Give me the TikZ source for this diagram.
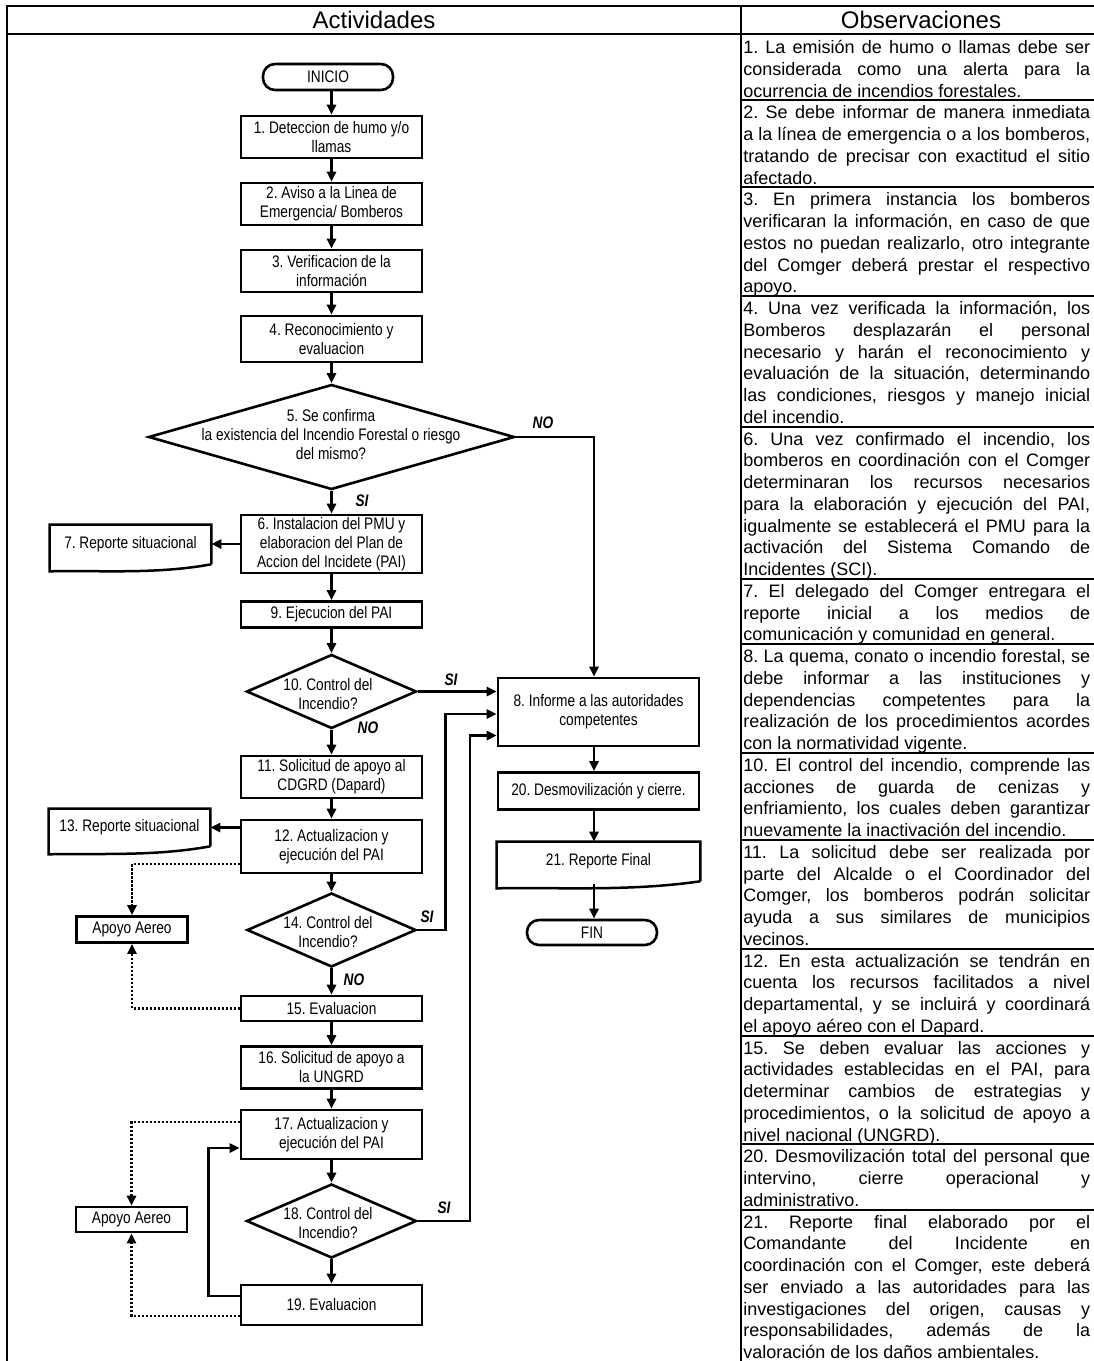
\documentclass[tikz,border=0pt]{standalone}
\usepackage{fontspec}
\setmainfont{Liberation Sans}
\newfontfamily\narrowfont[FakeStretch=0.82]{Liberation Sans}
\usetikzlibrary{shapes.geometric, arrows.meta}
\tolerance=10000
\hbadness=10000
\frenchspacing

\tikzset{
  grid/.style={line width=2pt},
  proc/.style={draw, line width=2.6pt, inner sep=0pt, align=center,
    minimum width=181, font=\narrowfont\fontsize{16.7}{19}\selectfont},
  term/.style={proc, rounded corners=12pt, minimum width=130},
  doc/.style={proc, draw=none},
  dia/.style={draw, diamond, line width=2.6pt, inner sep=0pt},
  txt/.style={inner sep=0pt, align=center, font=\narrowfont\fontsize{16.7}{19}\selectfont},
  lbl/.style={inner sep=0pt, font=\narrowfont\bfseries\itshape\fontsize{16.7}{19}\selectfont},
  aux/.style={->, line width=2.5pt, dash pattern=on 2.2pt off 1.8pt},
  head/.style={inner sep=0pt, font=\fontsize{24}{28}\selectfont},
  obs/.style={anchor=base west, inner sep=0pt, font=\fontsize{18}{21.75}\selectfont\frenchspacing}
}

\begin{document}
\begin{tikzpicture}[x=1pt, y=-1pt, >={Triangle[length=10pt,width=9pt]}, line width=2.5pt]
    \useasboundingbox (0,0) rectangle (1094,1361);

    % Draw the table
    \draw[grid] (6,6) -- (1094,6);
    \draw[grid] (6,34) -- (1094,34);
    \draw[grid] (7,6) -- (7,1361);
    \draw[grid] (741,6) -- (741,1361);
    \foreach \l in {3,7,12,18,25,28,33,37,42,46,51,54}
        \draw[grid] (741,{35+\l*21.75}) -- (1094,{35+\l*21.75});
    \node[head] (hact) at (374,20) {Actividades};
    \node[head] (hobs) at (921,20) {Observaciones};

    % Main column of the chart
    \node[term, minimum height=26] (ini) at (328,77) {INICIO};
    \node[proc, minimum height=42] (b1) at (331.5,137) {1. Deteccion de humo y/o\\llamas};
    \node[proc, minimum height=42] (b2) at (331.5,204) {2. Aviso a la Linea de\\Emergencia/ Bomberos};
    \node[proc, minimum height=42] (b3) at (331.5,271) {3. Verificacion de la\\información};
    \node[proc, minimum height=46] (b4) at (331.5,339) {4. Reconocimiento y\\evaluacion};
    \node[dia, minimum width=366, minimum height=105] (d5) at (331.5,437) {};
    \node[txt] (t5) at (331,435) {5. Se confirma\\la existencia del Incendio Forestal o riesgo\\del mismo?};
    \node[proc, minimum height=58] (b6) at (331.5,544) {6. Instalacion del PMU y\\elaboracion del Plan de\\Accion del Incidete (PAI)};
    \node[doc, minimum width=159, minimum height=37] (r7) at (130.5,544.5) {7. Reporte situacional};
    \node[proc, minimum height=26] (b9) at (331.5,614.5) {9. Ejecucion del PAI};
    \node[dia, minimum width=170, minimum height=74] (d10) at (331.5,691.5) {};
    \node[txt] (t10) at (328,694) {10. Control del\\Incendio?};
    \node[proc, minimum height=42] (b11) at (331.5,777) {11. Solicitud de apoyo al\\CDGRD (Dapard)};
    \node[proc, minimum height=53] (b12) at (331.5,846.5) {12. Actualizacion y\\ejecución del PAI};
    \node[doc, minimum width=159, minimum height=35] (r13) at (129.5,827.5) {13. Reporte situacional};
    \node[proc, minimum width=111, minimum height=26] (ap1) at (132,929.5) {Apoyo Aereo};
    \node[dia, minimum width=169, minimum height=74] (d14) at (331.5,930) {};
    \node[txt] (t14) at (328,932) {14. Control del\\Incendio?};
    \node[proc, minimum height=25] (b15) at (331.5,1008.5) {15. Evaluacion};
    \node[proc, minimum height=42] (b16) at (331.5,1067.5) {16. Solicitud de apoyo a\\la UNGRD};
    \node[proc, minimum height=49] (b17) at (331.5,1134.5) {17. Actualizacion y\\ejecución del PAI};
    \node[proc, minimum width=111, minimum height=25] (ap2) at (131.5,1219.5) {Apoyo Aereo};
    \node[dia, minimum width=170, minimum height=74] (d18) at (331.5,1221) {};
    \node[txt] (t18) at (328,1223) {18. Control del\\Incendio?};
    \node[proc, minimum height=40] (b19) at (331.5,1305) {19. Evaluacion};

    % Right column of the chart
    \coordinate (colr) at (594,0);
    \node[proc, minimum width=201, minimum height=68] (b8) at (598.5,712) {8. Informe a las autoridades\\competentes};
    \node[proc, minimum width=201, minimum height=37] (b20) at (598.5,791) {20. Desmovilización y cierre.};
    \node[doc, minimum width=201, minimum height=37] (r21) at (598.5,861.5) {21. Reporte Final};
    \node[term, minimum height=25] (fin) at (592,932.5) {FIN};

    % Wavy bottoms of the reports
    \draw (r7.south east) -- (r7.north east) -- (r7.north west) -- ([yshift=-7pt]r7.south west)
        .. controls ([xshift=55pt,yshift=-6pt]r7.south west) and ([xshift=-55pt,yshift=-10pt]r7.south east) .. (r7.south east);
    \draw (r13.south east) -- (r13.north east) -- (r13.north west) -- ([yshift=-8pt]r13.south west)
        .. controls ([xshift=55pt,yshift=-7pt]r13.south west) and ([xshift=-55pt,yshift=-10pt]r13.south east) .. (r13.south east);
    \draw (r21.south east) -- (r21.north east) -- (r21.north west) -- ([yshift=-7pt]r21.south west)
        .. controls ([xshift=70pt,yshift=-6pt]r21.south west) and ([xshift=-70pt,yshift=-10pt]r21.south east) .. (r21.south east);

    % Yes / no labels
    \node[lbl] (no5) at (543,423) {NO};
    \node[lbl] (si5) at (362,501) {SI};
    \node[lbl] (si10) at (451,680) {SI};
    \node[lbl] (no10) at (368,728) {NO};
    \node[lbl] (si14) at (427,917) {SI};
    \node[lbl] (no14) at (354,980) {NO};
    \node[lbl] (si18) at (444,1208) {SI};

    % Draw the arrows
    \draw[->] (ini.south -| b1) -- (b1);
    \draw[->] (b1) -- (b2);
    \draw[->] (b2) -- (b3);
    \draw[->] (b3) -- (b4);
    \draw[->] (b4) -- (d5);
    \draw[->] (d5) -- (b6);
    \draw[->] (b6.west) -- (b6.west -| r7.east);
    \draw[->] (b6) -- (b9);
    \draw[->] (b9) -- (d10);
    \draw[->] (d10) -- (b11);
    \draw[->] (b11) -- (b12);
    \draw[->] (b12.west |- r13) -- (r13.east);
    \draw[->] (b12) -- (d14);
    \draw[->] (d14) -- (b15);
    \draw[->] (b15) -- (b16);
    \draw[->] (b16) -- (b17);
    \draw[->] (b17) -- (d18);
    \draw[->] (d18) -- (b19);
    \draw[->] ([yshift=9pt]b19.west) -- ++(-31,0) |- ([yshift=-13.5pt]b17.west);

    \draw[->] (d5.east) -| (b8.north -| colr);
    \draw[->] (d10.east) -- (d10.east -| b8.west);
    \coordinate (j14) at (445.5,714);
    \draw[->] (d14.east) -| (j14) -- (j14 -| b8.west);
    \coordinate (j18) at (470,735.5);
    \draw[->] (d18.east) -| (j18) -- (j18 -| b8.west);
    \draw[->] (b8.south -| colr) -- (b20.north -| colr);
    \draw[->] (b20.south -| colr) -- (r21.north -| colr);
    \coordinate (w21) at (594,884);
    \draw[->] (w21) -- (w21 |- fin.north);

    % Air support (dotted)
    \draw[aux] ([yshift=-17.5pt]b12.west) -| (ap1.north);
    \draw[aux] (b15.west) -| (ap1.south);
    \draw[aux] ([yshift=12.5pt]b17.west) -| (ap2.north);
    \draw[aux] ([yshift=-11pt]b19.west) -| (ap2.south);

    % Observations
    \node[obs] (o1) at (742,53.5) {\parbox[t]{347pt}{1. La emisión de humo o llamas debe ser\linebreak considerada como una alerta para la\linebreak ocurrencia de incendios forestales.}};
    \node[obs] (o2) at (742,118.75) {\parbox[t]{347pt}{2. Se debe informar de manera inmediata\linebreak a la línea de emergencia o a los bomberos,\linebreak tratando de precisar con exactitud el sitio\linebreak afectado.}};
    \node[obs] (o3) at (742,205.75) {\parbox[t]{347pt}{3. En primera instancia los bomberos\linebreak verificaran la información, en caso de que\linebreak estos no puedan realizarlo, otro integrante\linebreak del Comger deberá prestar el respectivo\linebreak apoyo.}};
    \node[obs] (o4) at (742,314.5) {\parbox[t]{347pt}{4. Una vez verificada la información, los\linebreak Bomberos desplazarán el personal\linebreak necesario y harán el reconocimiento y\linebreak evaluación de la situación, determinando\linebreak las condiciones, riesgos y manejo inicial\linebreak del incendio.}};
    \node[obs] (o6) at (742,445) {\parbox[t]{347pt}{6. Una vez confirmado el incendio, los\linebreak bomberos en coordinación con el Comger\linebreak determinaran los recursos necesarios\linebreak para la elaboración y ejecución del PAI,\linebreak igualmente se establecerá el PMU para la\linebreak activación del Sistema Comando de\linebreak Incidentes (SCI).}};
    \node[obs] (o7) at (742,597.25) {\parbox[t]{347pt}{7. El delegado del Comger entregara el\linebreak reporte inicial a los medios de\linebreak comunicación y comunidad en general.}};
    \node[obs] (o8) at (742,662.5) {\parbox[t]{347pt}{8. La quema, conato o incendio forestal, se\linebreak debe informar a las instituciones y\linebreak dependencias competentes para la\linebreak realización de los procedimientos acordes\linebreak con la normatividad vigente.}};
    \node[obs] (o10) at (742,771.25) {\parbox[t]{347pt}{10. El control del incendio, comprende las\linebreak acciones de guarda de cenizas y\linebreak enfriamiento, los cuales deben garantizar\linebreak nuevamente la inactivación del incendio.}};
    \node[obs] (o11) at (742,858.25) {\parbox[t]{347pt}{11. La solicitud debe ser realizada por\linebreak parte del Alcalde o el Coordinador del\linebreak Comger, los bomberos podrán solicitar\linebreak ayuda a sus similares de municipios\linebreak vecinos.}};
    \node[obs] (o12) at (742,967) {\parbox[t]{347pt}{12. En esta actualización se tendrán en\linebreak cuenta los recursos facilitados a nivel\linebreak departamental, y se incluirá y coordinará\linebreak el apoyo aéreo con el Dapard.}};
    \node[obs] (o15) at (742,1054) {\parbox[t]{347pt}{15. Se deben evaluar las acciones y\linebreak actividades establecidas en el PAI, para\linebreak determinar cambios de estrategias y\linebreak procedimientos, o la solicitud de apoyo a\linebreak nivel nacional (UNGRD).}};
    \node[obs] (o20) at (742,1162.75) {\parbox[t]{347pt}{20. Desmovilización total del personal que\linebreak intervino, cierre operacional y\linebreak administrativo.}};
    \node[obs] (o21) at (742,1228) {\parbox[t]{347pt}{21. Reporte final elaborado por el\linebreak Comandante del Incidente en\linebreak coordinación con el Comger, este deberá\linebreak ser enviado a las autoridades para las\linebreak investigaciones del origen, causas y\linebreak responsabilidades, además de la\linebreak valoración de los daños ambientales.}};
\end{tikzpicture}
\end{document}
